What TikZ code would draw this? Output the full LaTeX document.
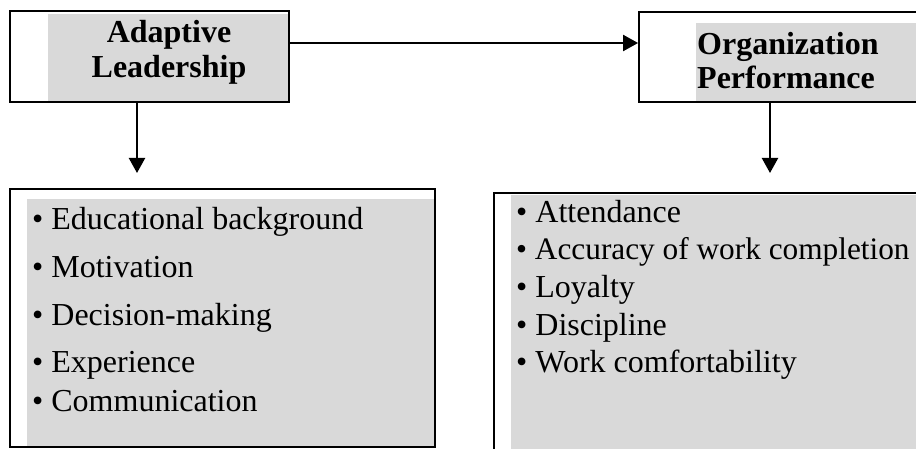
\documentclass[tikz,border=0pt]{standalone}
\usepackage{fontspec}
\setmainfont{Liberation Serif}
\usetikzlibrary{arrows.meta}
\definecolor{boxgray}{HTML}{D9D9D9}
\tikzset{
  frame/.style={draw=black, line width=1.8pt, inner sep=0pt},
  shade/.style={fill=boxgray},
  arr/.style={line width=2.2pt, -{Triangle[length=15pt,width=16pt]}},
  title/.style={font=\fontsize{32}{36}\selectfont\bfseries, inner sep=0pt},
  item/.style={font=\fontsize{32}{36}\selectfont, anchor=base west, inner sep=0pt},
}
\begin{document}
\begin{tikzpicture}[x=1pt,y=-1pt]
\useasboundingbox (0,0) rectangle (916,449);
% gray shadings
\fill[shade] (48,14) rectangle (288,101);
\fill[shade] (696,23) rectangle (916,101);
\fill[shade] (27,199) rectangle (434,446);
\fill[shade] (511,195) rectangle (916,449);
% boxes
\node[frame, minimum width=279pt, minimum height=91pt] (b1) at (149.5,56.5) {};
\node[frame, minimum width=290pt, minimum height=90pt] (b2) at (784,57) {};
\node[frame, minimum width=425pt, minimum height=258pt] (b3) at (222.5,318) {};
\node[frame, minimum width=430pt, minimum height=270pt] (b4) at (709,328) {};
% titles
\node[title, anchor=base] (t1) at (169,43) {Adaptive};
\node[title, anchor=base] (t1b) at (169,78) {Leadership};
\node[title, anchor=base west] (t2) at (697,55) {Organization};
\node[title, anchor=base west] (t2b) at (697,89) {Performance};
% connectors
\coordinate (hA) at (289,43);
\coordinate (hB) at (639,43);
\draw[arr] (b1.east |- hA) -- (b2.west |- hB);
\coordinate (d1) at (137,173);
\coordinate (d2) at (770,173);
\draw[arr] (b1.south -| d1) -- (d1);
\draw[arr] (b2.south -| d2) -- (d2);
% left list
\node[item] (l1) at (32,230) {• Educational background};
\node[item] (l2) at (32,278) {• Motivation};
\node[item] (l3) at (32,325) {• Decision-making};
\node[item] (l4) at (32,372) {• Experience};
\node[item] (l5) at (32,411) {• Communication};
% right list
\node[item] (r1) at (516,223) {• Attendance};
\node[item, font=\fontsize{31.3}{36}\selectfont] (r2) at (516,260) {• Accuracy of work completion};
\node[item] (r3) at (516,298) {• Loyalty};
\node[item] (r4) at (516,335) {• Discipline};
\node[item] (r5) at (516,372) {• Work comfortability};
\end{tikzpicture}
\end{document}
